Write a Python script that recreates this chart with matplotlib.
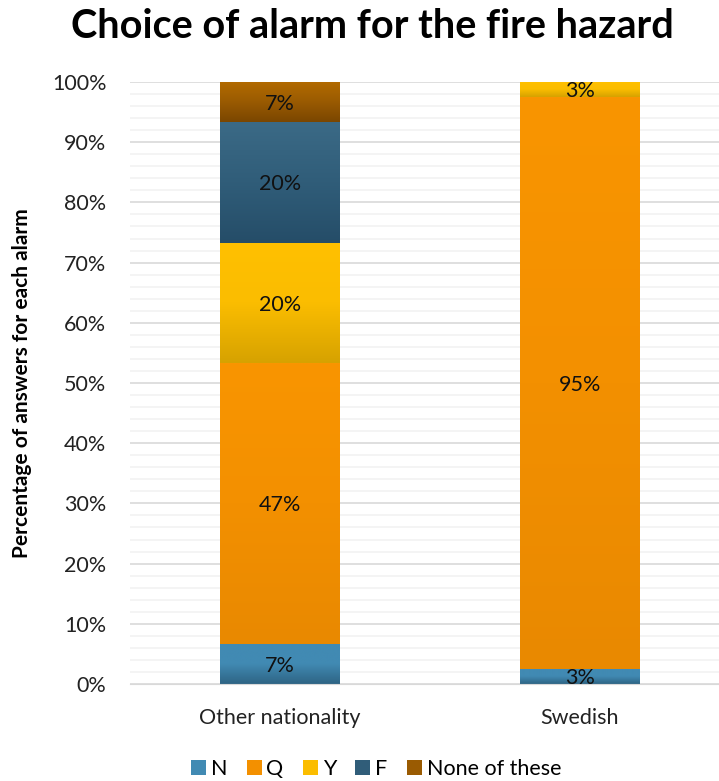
import matplotlib
matplotlib.use('Agg')
import matplotlib.pyplot as plt
import numpy as np
from matplotlib.colors import LinearSegmentedColormap
from matplotlib.patches import Patch
from matplotlib.ticker import MultipleLocator, PercentFormatter

plt.rcParams['font.family'] = ['Lato', 'DejaVu Sans']

groups = ['Other nationality', 'Swedish']
series = ['N', 'Q', 'Y', 'F', 'None of these']
# number of answers per alarm, per group
other_counts = [1, 7, 3, 3, 1]
swedish_counts = [1, 38, 1, 0, 0]

# top / middle / bottom colour of each gradient fill
shades = {
    'N': ['#418AB3', '#418AB3', '#2E6484'],
    'Q': ['#F99500', '#F39000', '#E98900'],
    'Y': ['#FFC000', '#FBBD00', '#D6A200'],
    'F': ['#3B6A86', '#305D79', '#254D68'],
    'None of these': ['#B36B00', '#9A5B02', '#7A4600'],
}

fs = 15.5

fig = plt.figure(figsize=(7.19, 7.81), dpi=100)
ax = fig.add_axes([130 / 719, 97 / 781, 589 / 719, 602 / 781])

width = 0.4
for xi, counts in enumerate([other_counts, swedish_counts]):
    total = sum(counts)
    bottom = 0.0
    for name, c in zip(series, counts):
        if c == 0:
            continue
        pct = 100.0 * c / total
        top, mid, bot = shades[name]
        cmap = LinearSegmentedColormap.from_list(name, [(0, bot), (0.5, mid), (1, top)])
        grad = np.linspace(0, 1, 256).reshape(-1, 1)
        ax.imshow(grad, cmap=cmap, origin='lower', aspect='auto', zorder=2,
                  extent=(xi - width / 2, xi + width / 2, bottom, bottom + pct),
                  interpolation='bilinear')
        ax.text(xi, bottom + pct / 2 - 0.3, '%d%%' % int(pct + 0.5), ha='center', va='center',
                fontsize=fs, color='#111111', zorder=3)
        bottom += pct

ax.set_xlim(-0.5, 1.5 - 11 / 300)
ax.set_ylim(0, 100)
ax.yaxis.set_major_locator(MultipleLocator(10))
ax.yaxis.set_minor_locator(MultipleLocator(2))
ax.yaxis.set_major_formatter(PercentFormatter(decimals=0))
ax.grid(axis='y', which='major', color='#D9D9D9', linewidth=1.2, zorder=0)
ax.grid(axis='y', which='minor', color='#F2F2F2', linewidth=1.2, zorder=0)
ax.set_axisbelow(True)
for s in ['top', 'right', 'left']:
    ax.spines[s].set_visible(False)
ax.spines['bottom'].set_color('#D9D9D9')
ax.tick_params(axis='both', which='both', length=0, labelsize=fs, colors='#222222')
ax.tick_params(axis='y', pad=17)
ax.tick_params(axis='x', pad=17)
ax.set_xticks(range(len(groups)))
ax.set_xticklabels(groups)
ax.set_ylabel('Percentage of answers for each alarm', fontsize=15, fontweight='bold')
ax.yaxis.set_label_coords(-0.166, 0.5)

fig.suptitle('Choice of alarm for the fire hazard', fontsize=28.5, fontweight='bold', x=372 / 719, y=0.99)

handles = [Patch(facecolor=shades[n][1], label=n) for n in series]
fig.legend(handles=handles, loc='lower center', bbox_to_anchor=(376 / 719, -0.022), ncol=5,
           frameon=False, fontsize=fs, handlelength=0.7, handleheight=0.7,
           columnspacing=0.9, handletextpad=0.22)

fig.savefig('out.png', dpi=100)
